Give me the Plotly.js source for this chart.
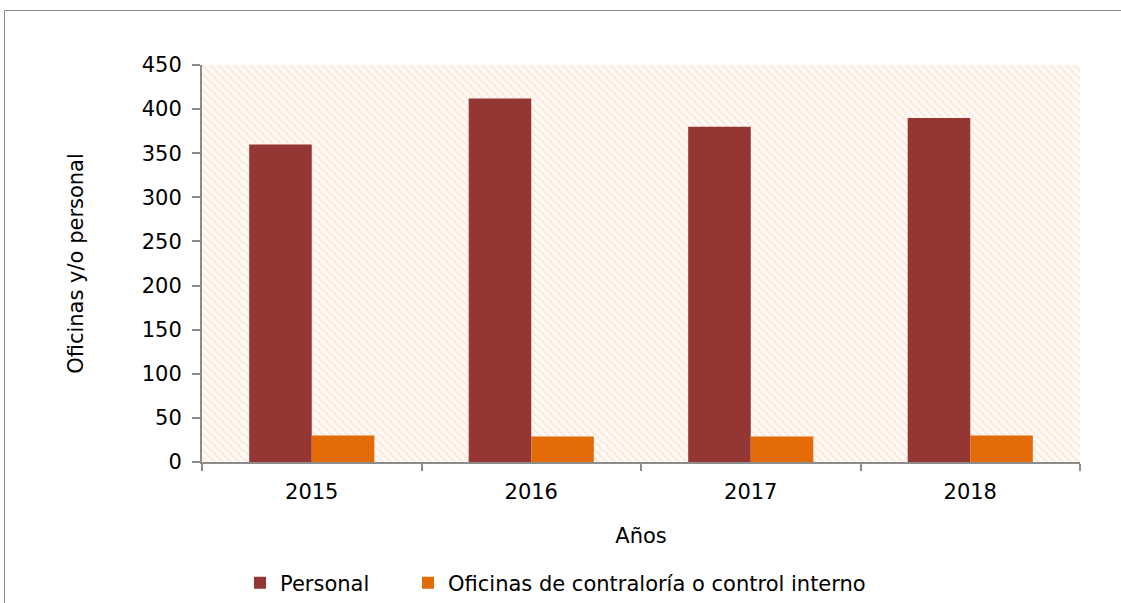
<!DOCTYPE html>
<html>
<head>
<meta charset="utf-8">
<script src="https://cdn.plot.ly/plotly-3.0.1.min.js"></script>
<style>
  html, body { margin: 0; padding: 0; background: #fff; overflow: hidden; }
  #chart { position: absolute; left: 0; top: 0; width: 1121px; height: 603px; }
</style>
</head>
<body>
<div id="chart"></div>
<script>
const years = ['2015', '2016', '2017', '2018'];
const personal = [360, 412, 380, 390];
const oficinas = [30, 29, 29, 30];
const seriesNames = ['Personal', 'Oficinas de contraloría o control interno'];
const yTicks = [0, 50, 100, 150, 200, 250, 300, 350, 400, 450];

const stripeSvg = '<svg xmlns="http://www.w3.org/2000/svg" width="878" height="397">' +
  '<defs><pattern id="p" patternUnits="userSpaceOnUse" width="8" height="8">' +
  '<path d="M-2,6 l4,4 M0,0 l8,8 M6,-2 l4,4" stroke="#fdeadb" stroke-width="2.4"/>' +
  '</pattern></defs><rect width="878" height="397" fill="#fffbf8"/><rect width="878" height="397" fill="url(#p)"/></svg>';
const stripeUri = 'data:image/svg+xml;base64,' + btoa(stripeSvg);

const font = { family: 'DejaVu Sans, Verdana, sans-serif', size: 21, color: '#000' };

const traces = [
  { type: 'bar', name: seriesNames[0], x: years, y: personal, marker: { color: '#943634' }, legend: 'legend', hoverinfo: 'x+y' },
  { type: 'bar', name: seriesNames[1], x: years, y: oficinas, marker: { color: '#E36C09' }, legend: 'legend2', hoverinfo: 'x+y' }
];

const legendBase = {
  orientation: 'h', xanchor: 'left', y: -0.305, yanchor: 'middle',
  font: font, bgcolor: 'rgba(0,0,0,0)', itemwidth: 30
};

// plot area: x 202..1080, y 65..462 (px); frame line at x=4.5, y=10.5
const pw = 878, ph = 397;
const fx = (4.5 - 202) / pw, fy = 1 + (65 - 10.5) / ph;

const layout = {
  width: 1121, height: 603,
  margin: { l: 202, r: 41, t: 65, b: 141, autoexpand: false },
  paper_bgcolor: '#fff',
  plot_bgcolor: 'rgba(0,0,0,0)',
  font: font,
  barmode: 'group',
  bargap: 0.43,
  bargroupgap: 0,
  showlegend: true,
  legend: Object.assign({}, legendBase, { x: (240 - 202) / pw }),
  legend2: Object.assign({}, legendBase, { x: (408 - 202) / pw }),
  xaxis: {
    type: 'category',
    showline: true, linecolor: '#8c8c8c', linewidth: 2,
    ticks: 'outside', ticklen: 7, tickwidth: 2, tickcolor: '#8c8c8c',
    tickson: 'boundaries',
    showgrid: false, zeroline: false,
    tickfont: font,
    ticklabelstandoff: 10,
    title: { text: 'Años', font: font, standoff: 25 }
  },
  yaxis: {
    range: [0, 450],
    tickvals: yTicks,
    showline: true, linecolor: '#8c8c8c', linewidth: 2,
    ticks: 'outside', ticklen: 8, tickwidth: 2, tickcolor: '#8c8c8c',
    showgrid: false, zeroline: false,
    tickfont: font,
    ticklabelstandoff: 6,
    title: { text: 'Oficinas y/o personal', font: font, standoff: 52 }
  },
  shapes: [
    { type: 'line', xref: 'paper', yref: 'paper', x0: fx, x1: fx, y0: fy, y1: -0.5, line: { color: '#8c8c8c', width: 1 } },
    { type: 'line', xref: 'paper', yref: 'paper', x0: fx, x1: 1.08, y0: fy, y1: fy, line: { color: '#8c8c8c', width: 1 } }
  ],
  images: [{
    source: stripeUri, xref: 'paper', yref: 'paper', x: 0, y: 1,
    sizex: 1, sizey: 1, sizing: 'stretch', xanchor: 'left', yanchor: 'top', layer: 'below'
  }]
};

Plotly.newPlot('chart', traces, layout, { displayModeBar: false });
</script>
</body>
</html>
